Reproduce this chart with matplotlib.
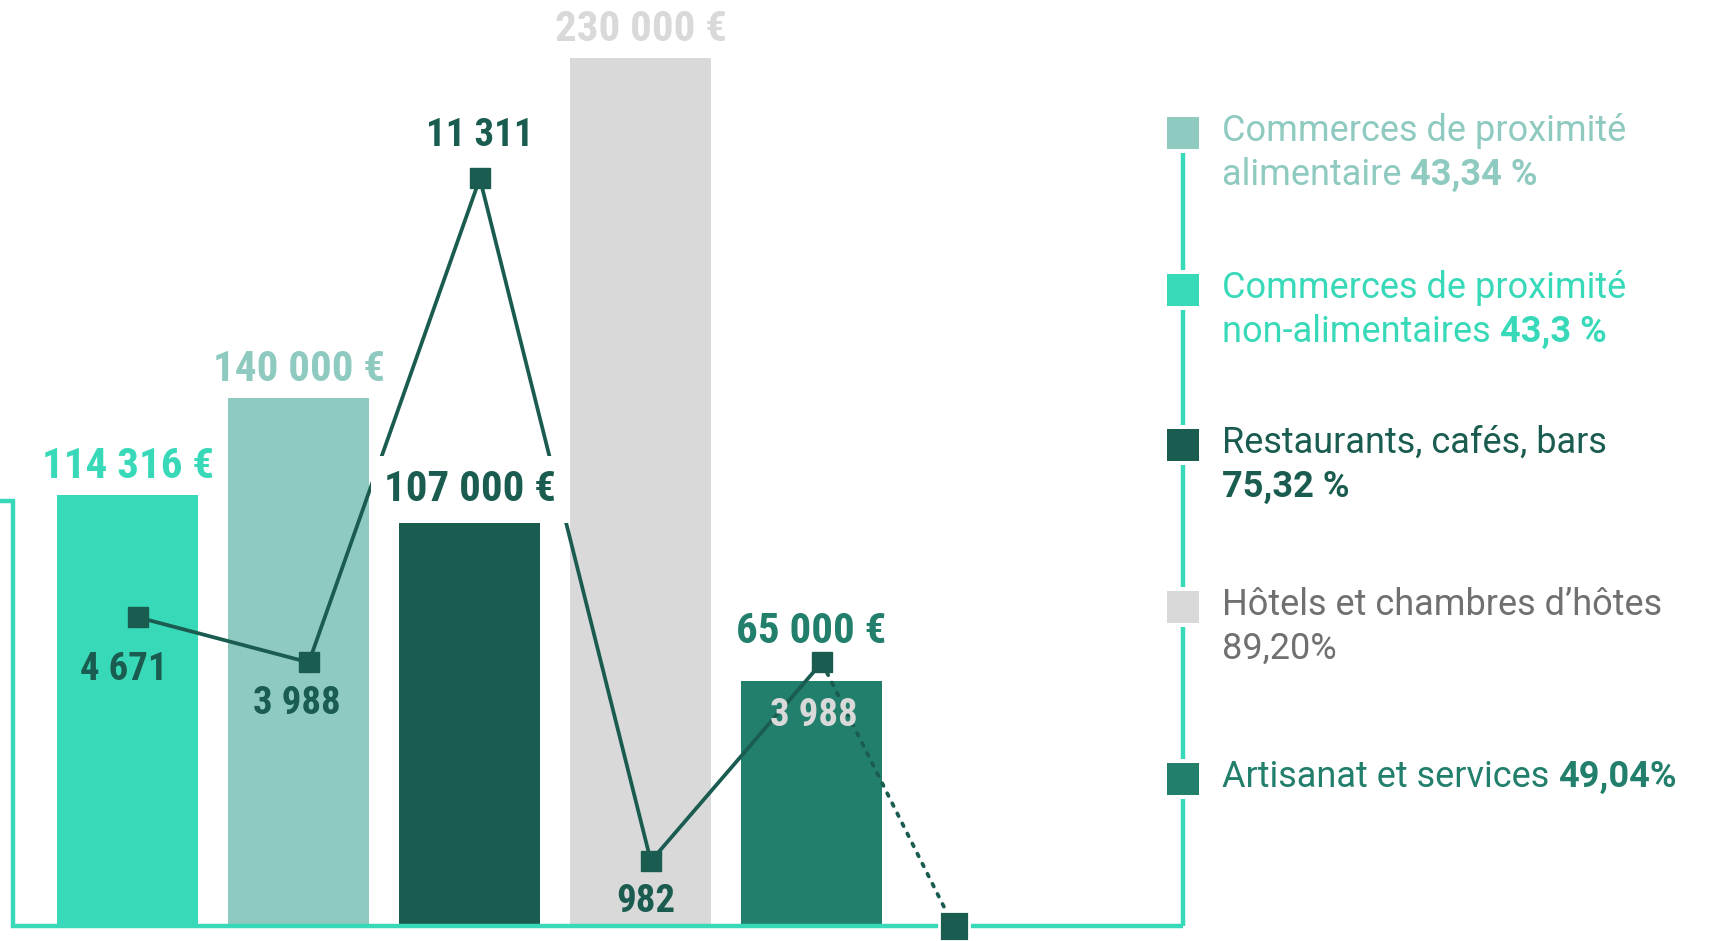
import matplotlib
matplotlib.use("Agg")
import matplotlib.pyplot as plt
from matplotlib.patches import Rectangle

# data, in bar order
sectors = ["Commerces de proximité non-alimentaires", "Commerces de proximité alimentaire",
           "Restaurants, cafés, bars", "Hôtels et chambres d’hôtes", "Artisanat et services"]
amounts = [114316, 140000, 107000, 230000, 65000]
counts = [4671, 3988, 11311, 982, 3988]
tail_count = 0

bar_colors = ["#38d9b8", "#8ecac0", "#1a5c50", "#d9d9d9", "#217f6c"]
count_colors = ["#1a5c50", "#1a5c50", "#1a5c50", "#1a5c50", "#d9d9d9"]
line_color = "#1a5c50"
frame_color = "#38d9b8"

# legend (its own order)
leg_line1 = ["Commerces de proximité", "Commerces de proximité", "Restaurants, cafés, bars",
             "Hôtels et chambres d’hôtes", "Artisanat et services"]
leg_line2 = ["alimentaire ", "non-alimentaires ", "", "", ""]
leg_pct = ["43,34 %", "43,3 %", "75,32 %", "89,20%", "49,04%"]
leg_pct_bold = [True, True, True, False, True]
leg_pct_newline = [False, False, True, True, False]
leg_sq_colors = ["#8ecac0", "#38d9b8", "#1a5c50", "#d9d9d9", "#217f6c"]
leg_txt_colors = ["#8ecac0", "#38d9b8", "#1a5c50", "#707070", "#217f6c"]


def fmt(v, euro=False):
    s = f"{v:,}".replace(",", " ")
    return s + " €" if euro else s


W, H = 1716, 941
fig = plt.figure(figsize=(W / 100, H / 100), dpi=100)

base_px = 926
left_px, right_px = 13, 1183
ax = fig.add_axes([left_px / W, (H - base_px) / H, (right_px - left_px) / W, base_px / H])
ax.set_zorder(1)
ax.patch.set_visible(False)
ax.set_xlim(-0.67, 6.172)
ax.set_ylim(0, 245400)
ax.axis("off")

x = list(range(len(amounts)))
ax.bar(x, amounts, width=0.825, color=bar_colors, zorder=2)

# frame + legend in pixel space
deco = fig.add_axes([0, 0, 1, 1])
deco.set_zorder(1.5)
deco.set_xlim(0, W)
deco.set_ylim(H, 0)
deco.axis("off")
lw_frame = 3.2
deco.plot([0, left_px, left_px, right_px], [501, 501, base_px, base_px],
          color=frame_color, lw=lw_frame, solid_joinstyle="miter", solid_capstyle="butt")

sq = 32
sq_x = right_px - sq / 2
leg_y = [133, 290, 445, 607, 779]
gap = 4
for i in range(len(leg_y)):
    y0 = leg_y[i] + sq / 2 + gap
    y1 = leg_y[i + 1] - sq / 2 - gap if i + 1 < len(leg_y) else base_px
    deco.plot([right_px, right_px], [y0, y1], color=frame_color, lw=lw_frame,
              solid_capstyle="butt")

leg_font = dict(family=["Roboto", "DejaVu Sans"], fontsize=26)
tx = 1222
for i, cy in enumerate(leg_y):
    deco.add_patch(Rectangle((sq_x, cy - sq / 2), sq, sq, color=leg_sq_colors[i], lw=0))
    c = leg_txt_colors[i]
    w = "bold" if leg_pct_bold[i] else "normal"
    y1 = cy - 2
    y2 = y1 + 44
    if leg_pct_newline[i]:
        deco.text(tx, y1, leg_line1[i], color=c, va="center", ha="left", **leg_font)
        deco.text(tx, y2, leg_pct[i], color=c, va="center", ha="left", weight=w, **leg_font)
    elif leg_line2[i]:
        deco.text(tx, y1, leg_line1[i], color=c, va="center", ha="left", **leg_font)
        t = deco.text(tx, y2, leg_line2[i], color=c, va="center", ha="left", **leg_font)
        deco.annotate(leg_pct[i], xy=(1, 0.5), xycoords=t, va="center", ha="left",
                      color=c, weight=w, **leg_font)
    else:
        t = deco.text(tx, y1, leg_line1[i] + " ", color=c, va="center", ha="left", **leg_font)
        deco.annotate(leg_pct[i], xy=(1, 0.5), xycoords=t, va="center", ha="left",
                      color=c, weight=w, **leg_font)

# count line on twin axis
ax2 = ax.twinx()
ax2.set_zorder(2)
ax2.set_ylim(0, 14010)
ax2.axis("off")
lx = [xi + 0.06 for xi in x]
ax2.plot(lx, counts, color=line_color, lw=2.7, marker="s", ms=14, zorder=3)
tail_x = 4.83
ax2.plot([lx[-1], tail_x], [counts[-1], tail_count], color=line_color, lw=2.7,
         ls=(0, (0.8, 2.2)), dash_capstyle="round", zorder=3)
ax2.plot([tail_x], [tail_count], marker="s", ms=22, color=line_color, mec="white",
         mew=2, clip_on=False, zorder=3)

val_font = dict(family=["Roboto Condensed", "DejaVu Sans Condensed", "Liberation Sans Narrow",
                        "Roboto", "DejaVu Sans"],
                weight="bold", stretch="condensed")

# amount labels above bars
amt_off = [12, 12, 15, 12, 27.5]
for i, v in enumerate(amounts):
    kw = {}
    if i == 2:
        kw["bbox"] = dict(boxstyle="square,pad=0.3", fc="white", ec="none")
    ax2.annotate(fmt(v, euro=True), xy=(x[i], v), xycoords=ax.transData,
                 xytext=(0, amt_off[i]), textcoords="offset points",
                 ha="center", va="baseline", color=bar_colors[i], fontsize=31,
                 zorder=4, **kw, **val_font)

# count labels
cnt_off = [(-10, -24), (-9, -16), (0, 23.5), (-4, -16), (-6, -25)]
for i, v in enumerate(counts):
    dx, dy = cnt_off[i]
    ax2.annotate(fmt(v), xy=(lx[i], v), xytext=(dx, dy), textcoords="offset points",
                 ha="center", va="baseline" if dy > 0 else "top",
                 color=count_colors[i], fontsize=28, zorder=5, **val_font)

fig.savefig("out.png", dpi=100)
